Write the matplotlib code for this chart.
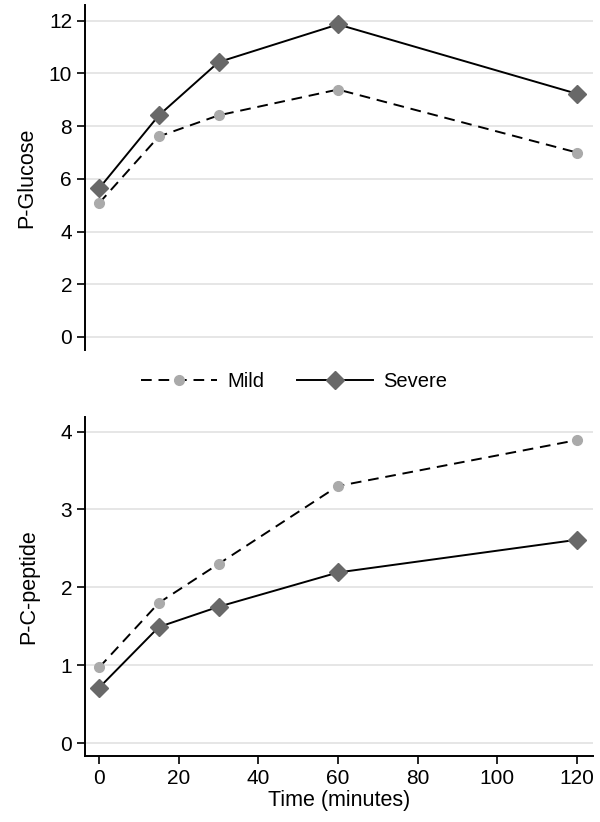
import matplotlib
matplotlib.use("Agg")
import matplotlib.pyplot as plt
from matplotlib.lines import Line2D

plt.rcParams['font.family'] = ['Liberation Sans', 'DejaVu Sans']
plt.rcParams['font.size'] = 14

time = [0, 15, 30, 60, 120]

glucose_mild = [5.08, 7.61, 8.41, 9.39, 7.0]
glucose_severe = [5.64, 8.41, 10.43, 11.86, 9.23]

cpep_mild = [0.97, 1.80, 2.30, 3.30, 3.89]
cpep_severe = [0.71, 1.49, 1.75, 2.19, 2.61]

mild_color = "#aaaaaa"
severe_color = "#686868"
dash = (0, (5.5, 3.5))

fig = plt.figure(figsize=(6, 8.22), dpi=100)
ax1 = fig.add_axes([0.142, 0.574, 0.846, 0.42])
ax2 = fig.add_axes([0.142, 0.080, 0.846, 0.413])


def draw(ax, mild, severe):
    ax.plot(time, mild, color="black", linestyle=dash, linewidth=1.4,
            marker="o", markersize=7, markerfacecolor=mild_color,
            markeredgecolor=mild_color, zorder=3)
    ax.plot(time, severe, color="black", linestyle="-", linewidth=1.4,
            marker="D", markersize=9, markerfacecolor=severe_color,
            markeredgecolor=severe_color, zorder=4)
    ax.set_xlim(-3.5, 124)
    ax.grid(axis="y", color="#e4e4e4", linewidth=1.3)
    ax.set_axisbelow(True)
    for s in ["top", "right"]:
        ax.spines[s].set_visible(False)
    ax.spines["left"].set_linewidth(1.4)
    ax.spines["bottom"].set_linewidth(1.4)
    ax.tick_params(width=1.2, length=6, labelsize=15)


draw(ax1, glucose_mild, glucose_severe)
ax1.set_ylim(-0.5, 12.6)
ax1.set_yticks([0, 2, 4, 6, 8, 10, 12])
ax1.spines["bottom"].set_visible(False)
ax1.tick_params(axis="x", bottom=False, labelbottom=False)
ax1.set_ylabel("P-Glucose", fontsize=15.5, labelpad=8)

draw(ax2, cpep_mild, cpep_severe)
ax2.set_ylim(-0.17, 4.19)
ax2.set_yticks([0, 1, 2, 3, 4])
ax2.set_xticks([0, 20, 40, 60, 80, 100, 120])
ax2.set_ylabel("P-C-peptide", fontsize=15.5, labelpad=15)
ax2.set_xlabel("Time (minutes)", fontsize=15.5, labelpad=1)

handles = [
    Line2D([], [], color="black", linestyle=dash, linewidth=1.4,
           marker="o", markersize=7, markerfacecolor=mild_color,
           markeredgecolor=mild_color),
    Line2D([], [], color="black", linestyle="-", linewidth=1.4,
           marker="D", markersize=9, markerfacecolor=severe_color,
           markeredgecolor=severe_color),
]
fig.legend(handles, ["Mild", "Severe"], loc="center", ncol=2,
           bbox_to_anchor=(0.49, 0.536), frameon=False, fontsize=14.5,
           handlelength=3.8, columnspacing=1.6, handletextpad=0.5)

fig.savefig("out.png", dpi=100)
